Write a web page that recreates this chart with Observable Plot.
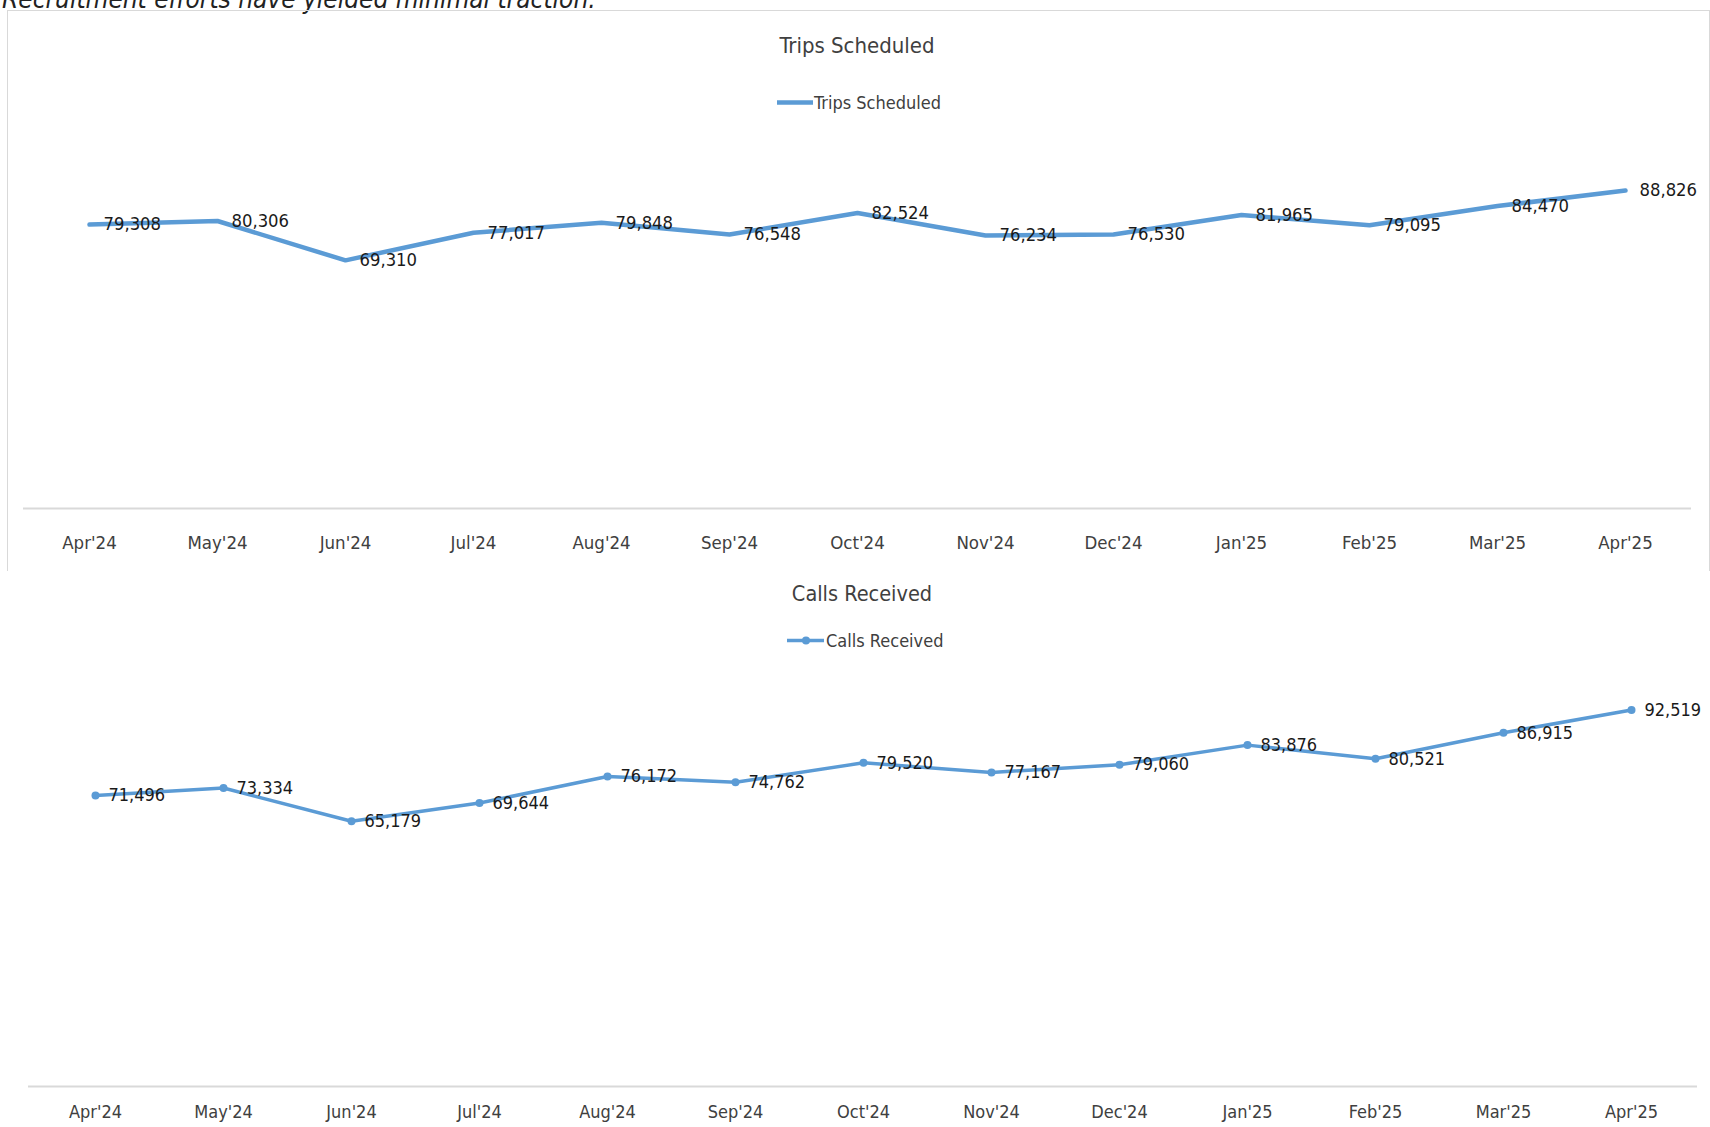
<!DOCTYPE html>
<html>
<head>
<meta charset="utf-8">
<script src="https://cdn.jsdelivr.net/npm/d3@7"></script>
<script src="https://cdn.jsdelivr.net/npm/@observablehq/plot@0.6"></script>
<style>
  html, body { margin: 0; padding: 0; background: #fff; }
  body { width: 1710px; height: 1127px; overflow: hidden; position: relative;
         font-family: "Liberation Sans Narrow", "DejaVu Sans Condensed", "Open Sans", sans-serif; color: #333; }
  .abs { position: absolute; }
  .headline { left: 2px; top: -16px; font-size: 26px; font-style: italic; color: #222; white-space: nowrap; }
  .box { left: 7px; top: 10px; width: 1701px; height: 560px; border: 1px solid #d9d9d9; border-bottom: none; }
  .title { font-size: 22px; color: #404040; transform: translate(-50%, -50%); white-space: nowrap; }
  .legend { font-size: 18px; color: #404040; display: flex; align-items: center; transform: translateY(-50%); white-space: nowrap; }
  .legend svg { display: block; }
</style>
</head>
<body>
<div class="abs headline">Recruitment efforts have yielded minimal traction.</div>
<div class="abs box"></div>
<div id="c1" class="abs" style="left:0;top:130px"></div>
<div class="abs title" style="left:857px;top:45px">Trips Scheduled</div>
<div class="abs legend" style="left:777px;top:102px">
  <svg width="36" height="10"><line x1="0" y1="5" x2="36" y2="5" stroke="#5B9BD5" stroke-width="4.5"/></svg>
  <span style="margin-left:1px">Trips Scheduled</span>
</div>
<div id="c2" class="abs" style="left:0;top:658px"></div>
<div class="abs title" style="left:862px;top:593px;font-size:21.5px">Calls Received</div>
<div class="abs legend" style="left:787px;top:640px">
  <svg width="37" height="12"><line x1="0" y1="6" x2="37" y2="6" stroke="#5B9BD5" stroke-width="3.5"/><circle cx="19" cy="6" r="4" fill="#5B9BD5"/></svg>
  <span style="margin-left:2px">Calls Received</span>
</div>
<script>
const months = ["Apr'24","May'24","Jun'24","Jul'24","Aug'24","Sep'24","Oct'24","Nov'24","Dec'24","Jan'25","Feb'25","Mar'25","Apr'25"];
const tripsScheduled = [79308, 80306, 69310, 77017, 79848, 76548, 82524, 76234, 76530, 81965, 79095, 84470, 88826];
const callsReceived = [71496, 73334, 65179, 69644, 76172, 74762, 79520, 77167, 79060, 83876, 80521, 86915, 92519];
const yDomain = [0, 100000];

const color = "#5B9BD5";
const fmt = d3.format(",");
const font = '"Liberation Sans Narrow", "DejaVu Sans Condensed", "Open Sans", sans-serif';

const trips = months.map((m, i) => ({month: m, value: tripsScheduled[i]}));
const calls = months.map((m, i) => ({month: m, value: callsReceived[i]}));

const chart1 = Plot.plot({
  width: 1710, height: 440,
  marginTop: 20, marginBottom: 62, marginLeft: 23, marginRight: 19,
  style: {fontFamily: font, fontSize: "18px", color: "#404040", background: "transparent"},
  x: {type: "point", domain: months, padding: 0.5, label: null},
  y: {domain: yDomain, axis: null},
  marks: [
    Plot.ruleY([0], {stroke: "#d9d9d9", strokeWidth: 2}),
    Plot.axisX({tickSize: 0, tickPadding: 27, fontSize: 18.5, label: null}),
    Plot.line(trips, {x: "month", y: "value", stroke: color, strokeWidth: 4.5, curve: "linear"}),
    Plot.text(trips, {x: "month", y: "value", text: d => fmt(d.value), textAnchor: "start", dx: 14, fontSize: 18.3, fill: "#1a1a1a"})
  ]
});
document.getElementById("c1").appendChild(chart1);

const chart2 = Plot.plot({
  width: 1710, height: 469,
  marginTop: 21, marginBottom: 41, marginLeft: 28, marginRight: 13,
  style: {fontFamily: font, fontSize: "18px", color: "#404040", background: "transparent"},
  x: {type: "point", domain: months, padding: 0.5, label: null},
  y: {domain: yDomain, axis: null},
  marks: [
    Plot.ruleY([0], {stroke: "#d9d9d9", strokeWidth: 2}),
    Plot.axisX({tickSize: 0, tickPadding: 19, fontSize: 18, label: null}),
    Plot.line(calls, {x: "month", y: "value", stroke: color, strokeWidth: 3.5, curve: "linear"}),
    Plot.dot(calls, {x: "month", y: "value", r: 4, fill: color, stroke: "none"}),
    Plot.text(calls, {x: "month", y: "value", text: d => fmt(d.value), textAnchor: "start", dx: 13, fontSize: 18, fill: "#1a1a1a"})
  ]
});
document.getElementById("c2").appendChild(chart2);
</script>
</body>
</html>
